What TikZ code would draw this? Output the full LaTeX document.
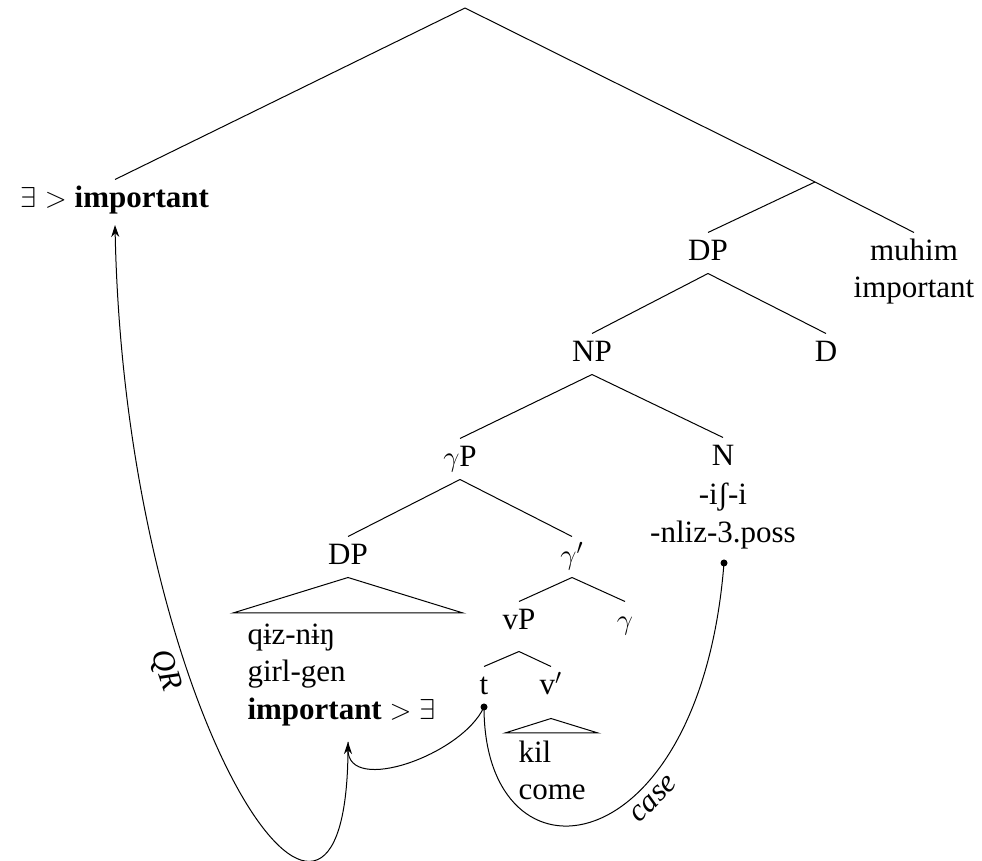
\documentclass[tikz,border=0pt]{standalone}
\usepackage[no-math]{fontspec}
\setmainfont{Liberation Serif}
\usetikzlibrary{arrows.meta}

\begin{document}
\begin{tikzpicture}[x=0.5pt, y=-0.5pt, line width=0.5pt,
      font=\fontsize{15.5}{19}\selectfont,
      every node/.style = {anchor=base, inner sep=3.5pt,
        text height=10.5pt, text depth=2.5pt},
      gloss/.style = {align=left, anchor=base west, inner sep=0pt,
        text height=, text depth=},
      glossc/.style = {gloss, align=center, anchor=base},
      arclabel/.style = {sloped, below, inner sep=4pt,
        text height=, text depth=},
      move/.style = {-{Stealth[length=6pt,width=4pt]}}]
  \useasboundingbox (0,0) rectangle (982,861);
  \clip (0,0) rectangle (982,861);
  % tree nodes (glosses sit on the baseline of their last line)
  \coordinate (root) at (465,8);
  \coordinate (x) at (815,182);
  \node (exi) at (115,208) {$\exists>$ \textbf{important}};
  \node (dpa) at (708,261) {DP};
  \node (muhim) at (914,261) {muhim};
  \node[glossc] (muhimgl) at (914,298) {important};
  \node (np) at (592,362) {NP};
  \node (d) at (826,362) {D};
  \node (gp) at (460,467) {$\gamma$P};
  \node (n) at (723,466) {N};
  \node[glossc] (ngl) at (723,543) {-iʃ-i\\-nliz-3.poss};
  \node (dpb) at (348,565) {DP};
  \node (gbar) at (572,565) {$\gamma'$};
  \node (vp) at (519,630) {vP};
  \node (g) at (625,630) {$\gamma$};
  \node (t) at (484,695) {t};
  \node (vbar) at (551,695) {v$'$};
  \node[gloss] (dpgl) at (247,720) {qɨz-nɨŋ\\girl-gen\\\textbf{important} $>\exists$};
  \node[gloss] (vgl) at (518,800) {kil\\come};
  % branches
  \draw (root) -- (exi.north);
  \draw (root) -- (x);
  \draw (x) -- (dpa.north);
  \draw (x) -- (muhim.north);
  \draw (dpa.south) -- (np.north);
  \draw (dpa.south) -- (d.north);
  \draw (np.south) -- (gp.north);
  \draw (np.south) -- (n.north);
  \draw (gp.south) -- (dpb.north);
  \draw (gp.south) -- (gbar.north);
  \draw (gbar.south) -- (vp.north);
  \draw (gbar.south) -- (g.north);
  \draw ([yshift=-4.5pt]vp.south) -- (t.north);
  \draw ([yshift=-4.5pt]vp.south) -- (vbar.north);
  % triangles
  \coordinate (dpbl) at (233,613);
  \coordinate (dpbr) at (463,613);
  \draw (dpb.south) -- (dpbl) -- (dpbr) -- cycle;
  \coordinate (vbl) at (505,733);
  \coordinate (vbr) at (598,733);
  \draw ([yshift=-5.5pt]vbar.south) -- (vbl) -- (vbr) -- cycle;
  % movement
  \coordinate (tdot) at (484,707);
  \coordinate (ndot) at (724,563);
  \coordinate (impfoot) at (348,742);
  \coordinate (exifoot) at (115,225);
  \fill (tdot) circle (1.75pt);
  \fill (ndot) circle (1.75pt);
  \draw[move] (tdot) .. controls (462,755) and (348,795) .. (impfoot);
  \draw[move] (impfoot) .. controls (350,1050) and (125,720) .. (exifoot)
    node[pos=0.65, arclabel] {\textit{QR}};
  \draw (tdot) .. controls (484,895) and (700,870) .. (ndot)
    node[pos=0.64, arclabel] {\textit{case}};
\end{tikzpicture}
\end{document}
